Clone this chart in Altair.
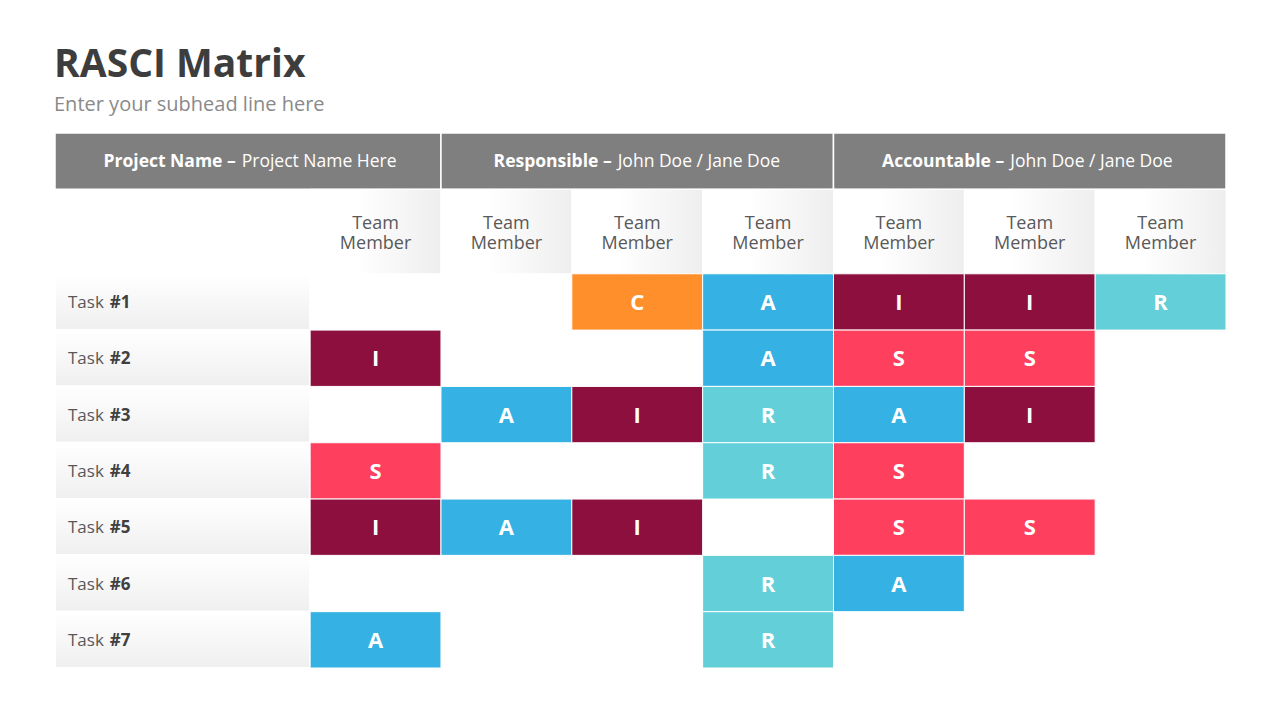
import altair as alt
import pandas as pd

# ---------------- data ----------------
TITLE = "RASCI Matrix"
SUBTITLE = "Enter your subhead line here"
group_bold = ["Project Name –", "Responsible –", "Accountable –"]
group_normal = ["Project Name Here", "John Doe / Jane Doe", "John Doe / Jane Doe"]
group_members = [1, 3, 3]
member_labels = ["Team\nMember"] * 7
task_prefix = "Task"
task_numbers = ["#1", "#2", "#3", "#4", "#5", "#6", "#7"]
matrix = [
    ["", "", "C", "A", "I", "I", "R"],
    ["I", "", "", "A", "S", "S", ""],
    ["", "A", "I", "R", "A", "I", ""],
    ["S", "", "", "R", "S", "", ""],
    ["I", "A", "I", "", "S", "S", ""],
    ["", "", "", "R", "A", "", ""],
    ["A", "", "", "R", "", "", ""],
]
roles = ["R", "A", "S", "C", "I"]
role_colors = ["#63CFD8", "#35B1E3", "#FF3F5E", "#FF8F2A", "#8C0F3E"]

# ---------------- layout ----------------
FONT = "Open Sans"
W, H = 1171, 535
LABEL_W = 1.95
X_MIN, X_MAX = -LABEL_W, float(len(member_labels))
UNIT = W / (X_MAX - X_MIN)
HEADER_H, MEMBER_H = 1.0, 1.5
Y_MAX = HEADER_H + MEMBER_H + len(task_numbers)


def est_width(s, fs, bold=False):
    w = 0.0
    for ch in s:
        if ch == " ":
            f = 0.27
        elif ch in "iljtfr.,:;!|'/":
            f = 0.32
        elif ch in "mwMW":
            f = 0.88
        elif ch == "–":
            f = 0.55
        elif ch.isupper():
            f = 0.66
        elif ch.isdigit() or ch == "#":
            f = 0.6
        else:
            f = 0.56
        w += f
    return w * fs * (1.07 if bold else 1.0)


HFS = 17.5
GAP = 6
hdr_rows = []
start = X_MIN
cum = 0
for b, n, m in zip(group_bold, group_normal, group_members):
    x0 = start
    cum += m
    x1 = float(cum)
    c = (x0 + x1) / 2
    wb = est_width(b, HFS, True)
    wn = est_width(n, HFS, False)
    hdr_rows.append(dict(x0=x0, x1=x1, bold=b, normal=n,
                         xb=c + (wb - GAP - wn) / 2 / UNIT,
                         xn=c + (wb + GAP - wn) / 2 / UNIT,
                         y0=0.0, y1=HEADER_H, yc=HEADER_H / 2))
    start = x1
hdr = pd.DataFrame(hdr_rows)

mem = pd.DataFrame([dict(x0=float(j), x1=float(j + 1), xc=j + 0.5, label=lab,
                         y0=HEADER_H, y1=HEADER_H + MEMBER_H,
                         yc=HEADER_H + MEMBER_H / 2)
                    for j, lab in enumerate(member_labels)])

TFS = 17
task_rows = []
for i, num in enumerate(task_numbers):
    y0 = HEADER_H + MEMBER_H + i
    task_rows.append(dict(x0=X_MIN, x1=0.0, y0=y0, y1=y0 + 1, yc=y0 + 0.5,
                          pre=task_prefix, num=num,
                          xp=X_MIN + 13 / UNIT,
                          xnum=X_MIN + (13 + 0.94 * est_width(task_prefix + " ", TFS)) / UNIT))
tsk = pd.DataFrame(task_rows)

cell_rows = []
for i, row in enumerate(matrix):
    for j, r in enumerate(row):
        if r:
            y0 = HEADER_H + MEMBER_H + i
            cell_rows.append(dict(x0=float(j), x1=float(j + 1), xc=j + 0.5,
                                  y0=y0, y1=y0 + 1, yc=y0 + 0.5, role=r))
cells = pd.DataFrame(cell_rows)

# ---------------- encodings ----------------
xs = alt.Scale(domain=[X_MIN, X_MAX], nice=False, zero=False)
ys = alt.Scale(domain=[0, Y_MAX], nice=False, zero=False, reverse=True)


def X(f):
    return alt.X(f, type="quantitative", scale=xs, axis=None)


def Y(f):
    return alt.Y(f, type="quantitative", scale=ys, axis=None)


hdr_rect = alt.Chart(hdr).mark_rect(color="#7F7F7F", stroke="white", strokeWidth=1.5).encode(
    x=X("x0"), x2="x1", y=Y("y0"), y2="y1")
hdr_b = alt.Chart(hdr).mark_text(font=FONT, fontSize=HFS, fontWeight="bold", color="white",
                                 align="right", baseline="middle", dy=1).encode(
    x=X("xb"), y=Y("yc"), text="bold:N")
hdr_n = alt.Chart(hdr).mark_text(font=FONT, fontSize=HFS, color="white",
                                 align="left", baseline="middle", dy=1).encode(
    x=X("xn"), y=Y("yc"), text="normal:N")

grad_h = alt.Gradient(gradient="linear",
                      stops=[alt.GradientStop(color="#FFFFFF", offset=0),
                             alt.GradientStop(color="#FFFFFF", offset=0.35),
                             alt.GradientStop(color="#EEEEEE", offset=1)],
                      x1=0, x2=1, y1=0, y2=0)
mem_rect = alt.Chart(mem).mark_rect(color=grad_h, stroke="white", strokeWidth=1).encode(
    x=X("x0"), x2="x1", y=Y("y0"), y2="y1")
mem_txt = alt.Chart(mem).mark_text(font=FONT, fontSize=18, color="#595959", lineBreak="\n",
                                   lineHeight=20, baseline="middle", dy=-8).encode(
    x=X("xc"), y=Y("yc"), text="label:N")

grad_v = alt.Gradient(gradient="linear",
                      stops=[alt.GradientStop(color="#FFFFFF", offset=0),
                             alt.GradientStop(color="#EFEFEF", offset=1)],
                      x1=0, x2=0, y1=0, y2=1)
tsk_rect = alt.Chart(tsk).mark_rect(color=grad_v, stroke="white", strokeWidth=2).encode(
    x=X("x0"), x2="x1", y=Y("y0"), y2="y1")
tsk_pre = alt.Chart(tsk).mark_text(font=FONT, fontSize=TFS, color="#595959", align="left",
                                   baseline="middle", dy=1).encode(
    x=X("xp"), y=Y("yc"), text="pre:N")
tsk_num = alt.Chart(tsk).mark_text(font=FONT, fontSize=TFS, fontWeight="bold", color="#404040",
                                   align="left", baseline="middle", dy=1).encode(
    x=X("xnum"), y=Y("yc"), text="num:N")

cell_rect = alt.Chart(cells).mark_rect(stroke="white", strokeWidth=1).encode(
    x=X("x0"), x2="x1", y=Y("y0"), y2="y1",
    color=alt.Color("role:N", scale=alt.Scale(domain=roles, range=role_colors), legend=None))
cell_txt = alt.Chart(cells).mark_text(font=FONT, fontSize=22, fontWeight="bold", color="white",
                                      baseline="middle", dy=1).encode(
    x=X("xc"), y=Y("yc"), text="role:N")

chart = alt.layer(hdr_rect, hdr_b, hdr_n, mem_rect, mem_txt, tsk_rect, tsk_pre, tsk_num,
                  cell_rect, cell_txt).properties(
    width=W, height=H,
    background="white",
    title=alt.Title(TITLE, subtitle=SUBTITLE, anchor="start", font=FONT, fontSize=39,
                    fontWeight="bold", color="#3D3D3D", subtitleFont=FONT, subtitleFontSize=20,
                    subtitleColor="#8A8A8A", subtitlePadding=10, offset=17),
    autosize=alt.AutoSizeParams(type="none"),
    padding={"left": 47, "top": 125, "right": 40, "bottom": 40},
).configure_view(strokeWidth=0, stroke="transparent")

chart.save("out.html", embed_options={"renderer": "svg", "actions": False})
